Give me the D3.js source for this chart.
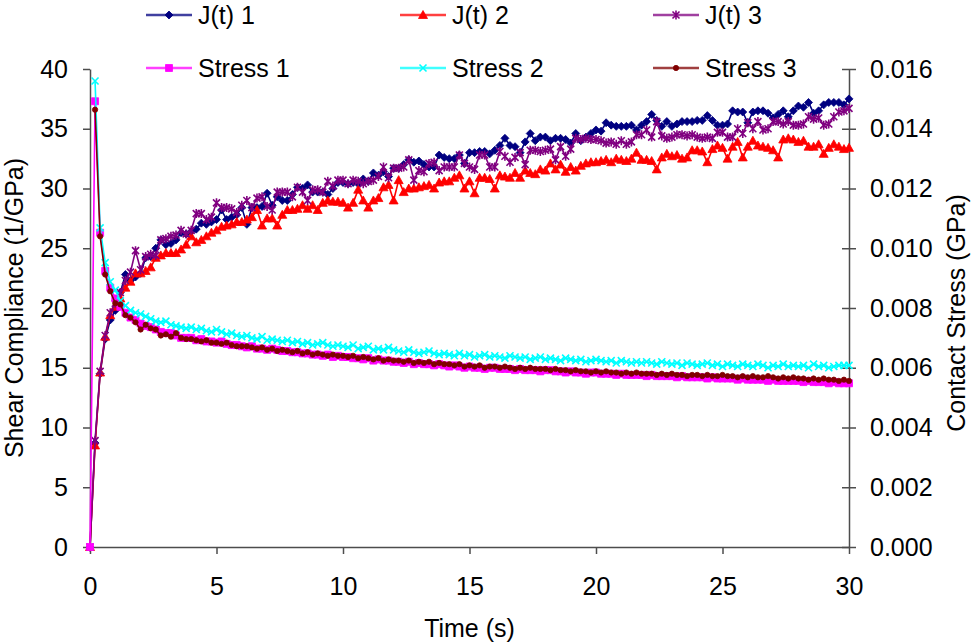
<!DOCTYPE html>
<html>
<head>
<meta charset="utf-8">
<script src="https://cdn.jsdelivr.net/npm/d3@7"></script>
<style>
  body { margin: 0; background: #fff; }
  svg { font-family: "Liberation Sans", Arial, sans-serif; }
</style>
</head>
<body>
<div id="chart"></div>
<script>
// sample times (s), one reading every 0.2 s
const times = [
  0, 0.2, 0.4, 0.6, 0.8, 1, 1.2, 1.4, 1.6, 1.8, 2, 2.2, 2.4, 2.6, 2.8, 3, 3.2, 3.4, 3.6, 3.8,
  4, 4.2, 4.4, 4.6, 4.8, 5, 5.2, 5.4, 5.6, 5.8, 6, 6.2, 6.4, 6.6, 6.8, 7, 7.2, 7.4, 7.6, 7.8,
  8, 8.2, 8.4, 8.6, 8.8, 9, 9.2, 9.4, 9.6, 9.8, 10, 10.2, 10.4, 10.6, 10.8, 11, 11.2, 11.4, 11.6, 11.8,
  12, 12.2, 12.4, 12.6, 12.8, 13, 13.2, 13.4, 13.6, 13.8, 14, 14.2, 14.4, 14.6, 14.8, 15, 15.2, 15.4, 15.6, 15.8,
  16, 16.2, 16.4, 16.6, 16.8, 17, 17.2, 17.4, 17.6, 17.8, 18, 18.2, 18.4, 18.6, 18.8, 19, 19.2, 19.4, 19.6, 19.8,
  20, 20.2, 20.4, 20.6, 20.8, 21, 21.2, 21.4, 21.6, 21.8, 22, 22.2, 22.4, 22.6, 22.8, 23, 23.2, 23.4, 23.6, 23.8,
  24, 24.2, 24.4, 24.6, 24.8, 25, 25.2, 25.4, 25.6, 25.8, 26, 26.2, 26.4, 26.6, 26.8, 27, 27.2, 27.4, 27.6, 27.8,
  28, 28.2, 28.4, 28.6, 28.8, 29, 29.2, 29.4, 29.6, 29.8, 30
];

// shear compliance J(t), 1/GPa (left axis)
const jt1 = [
  0, 8.7, 14.5, 17.4, 19.0, 19.8, 21.3, 22.8, 22.3, 22.6,
  22.9, 24.2, 24.3, 25.0, 25.7, 25.3, 25.4, 25.7, 26.3, 26.2,
  26.4, 26.6, 27.1, 27.0, 27.2, 27.4, 28.2, 27.4, 27.6, 27.8,
  28.4, 27.0, 28.4, 28.4, 28.5, 29.6, 28.6, 29.3, 29.0, 29.0,
  29.5, 30.1, 30.0, 30.3, 29.7, 29.7, 29.7, 29.5, 30.0, 30.5,
  30.5, 30.4, 30.5, 30.4, 30.8, 30.6, 31.3, 31.1, 31.4, 31.0,
  31.7, 31.7, 32.0, 32.4, 32.2, 32.3, 32.0, 31.8, 31.8, 32.8,
  32.6, 32.5, 32.5, 32.8, 32.1, 33.0, 33.0, 33.1, 33.1, 32.9,
  33.2, 33.6, 34.2, 33.6, 33.5, 33.0, 33.9, 34.6, 34.0, 34.3,
  34.3, 34.0, 34.2, 34.2, 34.1, 33.8, 34.6, 34.0, 34.3, 34.6,
  34.9, 34.8, 35.5, 35.3, 35.2, 35.2, 35.2, 35.3, 34.9, 35.3,
  35.6, 36.2, 35.7, 35.2, 35.6, 35.2, 35.4, 35.6, 35.6, 35.6,
  35.7, 35.7, 36.1, 35.7, 35.3, 35.3, 35.4, 36.5, 36.4, 36.4,
  35.5, 36.4, 36.5, 36.5, 36.3, 35.9, 36.2, 36.5, 36.0, 36.5,
  36.9, 36.8, 37.2, 36.3, 36.5, 37.0, 37.2, 37.2, 37.2, 37.0,
  37.5
];
const jt2 = [
  0, 8.5, 14.6, 17.6, 19.4, 20.1, 20.8, 21.7, 22.2, 22.9,
  22.9, 23.1, 23.4, 24.2, 24.4, 24.6, 24.6, 24.6, 24.9, 25.3,
  26.0, 25.5, 25.7, 26.0, 26.3, 26.5, 26.8, 26.9, 27.0, 27.2,
  27.2, 27.4, 27.6, 28.2, 26.9, 27.5, 27.5, 26.9, 27.8, 28.2,
  28.2, 28.3, 28.6, 28.3, 28.6, 28.2, 28.8, 29.0, 28.9, 28.9,
  28.8, 28.4, 28.8, 29.9, 29.0, 28.4, 29.0, 29.2, 30.1, 30.3,
  29.0, 30.7, 29.7, 30.0, 30.0, 30.1, 30.2, 30.3, 30.0, 30.5,
  30.6, 30.6, 30.9, 31.1, 30.0, 30.6, 29.6, 30.9, 30.9, 30.8,
  30.0, 31.1, 31.0, 30.9, 31.3, 30.9, 31.5, 31.3, 31.2, 31.6,
  31.5, 32.1, 31.6, 32.0, 31.4, 31.8, 31.5, 31.9, 32.1, 32.2,
  32.2, 32.3, 32.4, 32.2, 32.5, 32.4, 32.3, 32.5, 33.0, 32.4,
  32.4, 32.3, 31.6, 32.6, 32.9, 32.7, 32.8, 32.5, 32.6, 33.2,
  33.2, 33.1, 32.2, 33.3, 33.6, 33.4, 32.5, 33.5, 33.9, 32.6,
  33.5, 34.0, 33.6, 33.5, 33.4, 33.2, 32.6, 34.1, 34.2, 34.1,
  33.9, 34.0, 33.5, 33.5, 33.7, 32.9, 33.4, 33.7, 33.5, 33.3,
  33.4
];
const jt3 = [
  0, 8.9, 14.7, 17.7, 19.6, 20.4, 21.3, 22.3, 23.0, 24.8,
  23.2, 24.3, 24.5, 24.4, 25.7, 25.8, 26.0, 26.1, 26.5, 26.2,
  26.5, 27.9, 27.9, 27.4, 27.6, 28.8, 28.4, 28.4, 28.3, 28.0,
  28.6, 29.0, 28.4, 29.2, 29.3, 28.5, 28.2, 29.7, 29.7, 29.7,
  29.3, 30.1, 29.7, 29.0, 29.9, 29.9, 29.7, 30.6, 30.2, 30.7,
  30.7, 30.4, 30.7, 30.6, 30.4, 30.6, 30.7, 31.0, 31.8, 30.9,
  31.7, 31.7, 31.8, 32.4, 30.7, 31.5, 31.4, 32.1, 32.2, 31.5,
  31.8, 31.8, 31.8, 32.8, 32.1, 31.8, 31.6, 32.8, 32.8, 31.8,
  31.8, 33.1, 32.7, 32.2, 32.6, 33.0, 32.0, 33.2, 33.2, 33.1,
  33.2, 33.3, 32.4, 33.5, 32.7, 33.3, 34.2, 34.1, 34.2, 34.1,
  34.1, 34.0, 33.8, 33.9, 33.7, 34.0, 33.7, 33.9, 34.5, 34.5,
  34.9, 34.3, 35.6, 34.4, 34.2, 34.3, 34.5, 34.5, 34.4, 34.5,
  34.3, 34.2, 34.3, 34.2, 34.7, 34.7, 34.3, 34.3, 35.0, 34.6,
  35.5, 35.0, 35.6, 34.9, 35.0, 35.6, 35.6, 35.4, 35.6, 35.3,
  35.3, 35.4, 36.0, 35.8, 35.9, 35.3, 35.4, 36.0, 36.4, 36.5,
  36.7
];

// contact stress, MPa (plotted in GPa on the right axis)
const stress1 = [
  0, 14.92, 10.52, 9.24, 8.68, 8.32, 8.04, 7.84, 7.68, 7.60,
  7.48, 7.40, 7.36, 7.28, 7.20, 7.16, 7.16, 7.08, 7.00, 7.00,
  7.00, 6.92, 6.96, 6.88, 6.88, 6.84, 6.88, 6.80, 6.76, 6.76,
  6.72, 6.68, 6.72, 6.64, 6.64, 6.60, 6.64, 6.60, 6.56, 6.56,
  6.52, 6.52, 6.48, 6.48, 6.44, 6.44, 6.40, 6.44, 6.36, 6.40,
  6.36, 6.36, 6.32, 6.32, 6.28, 6.32, 6.24, 6.28, 6.24, 6.24,
  6.20, 6.20, 6.16, 6.20, 6.12, 6.16, 6.12, 6.12, 6.08, 6.12,
  6.08, 6.04, 6.08, 6.04, 6.00, 6.04, 6.00, 6.00, 5.96, 6.00,
  6.00, 5.96, 5.96, 5.96, 5.92, 5.96, 5.92, 5.92, 5.92, 5.88,
  5.92, 5.92, 5.88, 5.88, 5.84, 5.88, 5.84, 5.84, 5.80, 5.84,
  5.84, 5.80, 5.80, 5.80, 5.76, 5.80, 5.76, 5.76, 5.76, 5.76,
  5.72, 5.76, 5.72, 5.72, 5.72, 5.72, 5.68, 5.72, 5.68, 5.68,
  5.68, 5.68, 5.64, 5.68, 5.64, 5.64, 5.64, 5.64, 5.60, 5.64,
  5.60, 5.60, 5.60, 5.60, 5.56, 5.60, 5.56, 5.56, 5.56, 5.56,
  5.56, 5.52, 5.56, 5.52, 5.52, 5.52, 5.48, 5.52, 5.48, 5.48,
  5.48
];
const stress2 = [
  null, 15.60, 10.68, 9.52, 8.88, 8.60, 8.24, 8.08, 7.92, 7.84,
  7.80, 7.72, 7.64, 7.56, 7.52, 7.56, 7.44, 7.40, 7.36, 7.32,
  7.36, 7.28, 7.32, 7.24, 7.20, 7.28, 7.20, 7.12, 7.16, 7.08,
  7.04, 7.08, 7.00, 6.96, 7.04, 6.92, 6.96, 6.92, 6.88, 6.92,
  6.84, 6.88, 6.80, 6.84, 6.76, 6.80, 6.84, 6.76, 6.72, 6.76,
  6.72, 6.68, 6.76, 6.64, 6.68, 6.72, 6.60, 6.64, 6.60, 6.68,
  6.60, 6.56, 6.52, 6.60, 6.52, 6.48, 6.52, 6.56, 6.48, 6.44,
  6.48, 6.44, 6.40, 6.48, 6.40, 6.44, 6.36, 6.40, 6.44, 6.36,
  6.40, 6.36, 6.32, 6.40, 6.36, 6.32, 6.36, 6.28, 6.32, 6.36,
  6.28, 6.32, 6.28, 6.24, 6.32, 6.28, 6.24, 6.28, 6.20, 6.24,
  6.28, 6.24, 6.20, 6.24, 6.16, 6.24, 6.20, 6.16, 6.20, 6.16,
  6.20, 6.16, 6.12, 6.20, 6.16, 6.12, 6.16, 6.08, 6.16, 6.12,
  6.08, 6.12, 6.16, 6.08, 6.12, 6.04, 6.12, 6.08, 6.04, 6.12,
  6.08, 6.04, 6.12, 6.08, 6.00, 6.08, 6.04, 6.12, 6.04, 6.08,
  6.04, 6.08, 6.00, 6.12, 6.04, 6.08, 6.00, 6.04, 6.08, 6.08,
  6.08
];
const stress3 = [
  null, 14.64, 10.40, 9.12, 8.56, 8.16, 8.12, 7.76, 7.68, 7.52,
  7.28, 7.44, 7.32, 7.28, 7.08, 7.12, 7.04, 7.16, 7.00, 6.96,
  6.96, 6.92, 6.88, 6.92, 6.84, 6.84, 6.80, 6.84, 6.76, 6.72,
  6.72, 6.72, 6.68, 6.64, 6.68, 6.60, 6.64, 6.56, 6.60, 6.56,
  6.52, 6.56, 6.48, 6.52, 6.44, 6.48, 6.44, 6.40, 6.44, 6.40,
  6.40, 6.36, 6.40, 6.32, 6.36, 6.32, 6.28, 6.32, 6.24, 6.28,
  6.24, 6.24, 6.20, 6.24, 6.16, 6.20, 6.16, 6.20, 6.12, 6.16,
  6.12, 6.12, 6.08, 6.12, 6.04, 6.08, 6.04, 6.08, 6.00, 6.04,
  6.04, 6.00, 6.04, 6.00, 5.96, 6.00, 5.96, 6.00, 5.96, 5.96,
  5.96, 5.92, 5.96, 5.92, 5.92, 5.88, 5.92, 5.88, 5.88, 5.84,
  5.88, 5.84, 5.88, 5.84, 5.84, 5.80, 5.84, 5.80, 5.84, 5.80,
  5.80, 5.80, 5.76, 5.80, 5.76, 5.80, 5.76, 5.76, 5.72, 5.76,
  5.76, 5.72, 5.76, 5.72, 5.72, 5.76, 5.72, 5.72, 5.68, 5.72,
  5.68, 5.72, 5.68, 5.68, 5.72, 5.68, 5.64, 5.68, 5.64, 5.68,
  5.64, 5.64, 5.60, 5.64, 5.60, 5.64, 5.60, 5.60, 5.56, 5.60,
  5.56
];

const timeTicks = [0, 5, 10, 15, 20, 25, 30];
const complianceTicks = [0, 5, 10, 15, 20, 25, 30, 35, 40];
const stressTicks = [0, 0.002, 0.004, 0.006, 0.008, 0.010, 0.012, 0.014, 0.016];

var width = 972, height = 644;
var plot = {left: 90, right: 849, top: 69, bottom: 547};
var axisColor = "#4d4d4d";
var fontSize = "25px";

var svg = d3.select("#chart")
    .append("svg")
        .attr("width", width)
        .attr("height", height);

var x = d3.scaleLinear().domain([0, 30]).range([plot.left, plot.right]);
var y = d3.scaleLinear().domain([0, 40]).range([plot.bottom, plot.top]);
var y2 = d3.scaleLinear().domain([0, 0.016]).range([plot.bottom, plot.top]);

// axes
var xAxis = svg.append("g")
    .attr("transform", "translate(0," + plot.bottom + ")")
    .call(d3.axisBottom(x).tickValues(timeTicks).tickSize(7).tickSizeOuter(0).tickPadding(23));

var yAxis = svg.append("g")
    .attr("transform", "translate(" + plot.left + ",0)")
    .call(d3.axisLeft(y).tickValues(complianceTicks).tickSize(7).tickSizeOuter(0).tickPadding(15));

var y2Axis = svg.append("g")
    .attr("transform", "translate(" + plot.right + ",0)")
    .call(d3.axisRight(y2).tickValues(stressTicks).tickSize(7).tickSizeOuter(0).tickPadding(14)
        .tickFormat(d3.format(".3f")));
// right axis ticks cross the axis line
y2Axis.selectAll(".tick line").attr("x1", -7).attr("x2", 7);

[xAxis, yAxis, y2Axis].forEach(function(g) {
    g.selectAll("path.domain").attr("stroke", axisColor).attr("stroke-width", 1.5);
    g.selectAll(".tick line").attr("stroke", axisColor).attr("stroke-width", 1.5);
    g.selectAll(".tick text")
        .attr("fill", "#000")
        .style("font-size", fontSize)
        .style("font-family", "'Liberation Sans', Arial, sans-serif");
});

// axis titles
svg.append("text")
    .attr("text-anchor", "middle")
    .attr("x", (plot.left + plot.right) / 2)
    .attr("y", 637)
    .style("font-size", fontSize)
    .text("Time (s)");

svg.append("text")
    .attr("text-anchor", "middle")
    .attr("transform", "translate(23,308) rotate(-90)")
    .style("font-size", fontSize)
    .text("Shear Compliance (1/GPa)");

svg.append("text")
    .attr("text-anchor", "middle")
    .attr("transform", "translate(965,313) rotate(-90)")
    .style("font-size", fontSize)
    .text("Contact Stress (GPa)");

// marker shapes
function markerPath(kind) {
    if (kind === "diamond") return "M0,-4L4,0L0,4L-4,0Z";
    if (kind === "triangle") return "M0,-4.5L4.5,3.5L-4.5,3.5Z";
    if (kind === "square") return "M-3.5,-3.5H3.5V3.5H-3.5Z";
    if (kind === "circle") return d3.symbol().type(d3.symbolCircle).size(22)();
    if (kind === "x") return "M-3.5,-3.5L3.5,3.5M-3.5,3.5L3.5,-3.5";
    if (kind === "star") return "M-3.5,-3.5L3.5,3.5M-3.5,3.5L3.5,-3.5M0,-4.5V4.5";
}

const series = [
    {name: "J(t) 1", values: jt1, color: "#000080", marker: "diamond", axis: "left"},
    {name: "J(t) 2", values: jt2, color: "#ff0000", marker: "triangle", axis: "left"},
    {name: "J(t) 3", values: jt3, color: "#800080", marker: "star", axis: "left"},
    {name: "Stress 1", values: stress1, color: "#ff00ff", marker: "square", axis: "right"},
    {name: "Stress 2", values: stress2, color: "#00ffff", marker: "x", axis: "right"},
    {name: "Stress 3", values: stress3, color: "#800000", marker: "circle", axis: "right"}
];

function yPos(s, v) {
    return s.axis === "left" ? y(v) : y2(v / 1000);
}

function drawMarker(sel, s) {
    var open = (s.marker === "x" || s.marker === "star");
    sel.append("path")
        .attr("d", markerPath(s.marker))
        .attr("fill", open ? "none" : s.color)
        .attr("stroke", s.color)
        .attr("stroke-width", open ? 1.6 : 0.8);
}

series.forEach(function(s) {
    var pts = times.map(function(t, i) { return {t: t, v: s.values[i]}; })
        .filter(function(d) { return d.v !== null; });

    var line = d3.line()
        .x(function(d) { return x(d.t); })
        .y(function(d) { return yPos(s, d.v); });

    var g = svg.append("g");
    g.append("path")
        .datum(pts)
        .attr("d", line)
        .attr("fill", "none")
        .attr("stroke", s.color)
        .attr("stroke-width", 1.6)
        .attr("stroke-linejoin", "round");

    g.selectAll("g.mark")
        .data(pts)
        .enter()
        .append("g")
            .attr("class", "mark")
            .attr("transform", function(d) { return "translate(" + x(d.t) + "," + yPos(s, d.v) + ")"; })
        .each(function() { drawMarker(d3.select(this), s); });
});

// legend: two rows of three
var legendCols = [146, 400, 653];
var legendRows = [15, 68];

series.forEach(function(s, i) {
    var lx = legendCols[i % 3], ly = legendRows[Math.floor(i / 3)];
    var g = svg.append("g").attr("transform", "translate(" + lx + "," + ly + ")");
    g.append("line")
        .attr("x1", 0).attr("x2", 46)
        .attr("y1", 0).attr("y2", 0)
        .attr("stroke", s.color)
        .attr("stroke-opacity", 0.75)
        .attr("stroke-width", 2.5);
    drawMarker(g.append("g").attr("transform", "translate(23,0)"), s);
    g.append("text")
        .attr("x", 52)
        .attr("y", 0)
        .attr("dy", "0.35em")
        .style("font-size", fontSize)
        .text(s.name);
});
</script>
</body>
</html>
